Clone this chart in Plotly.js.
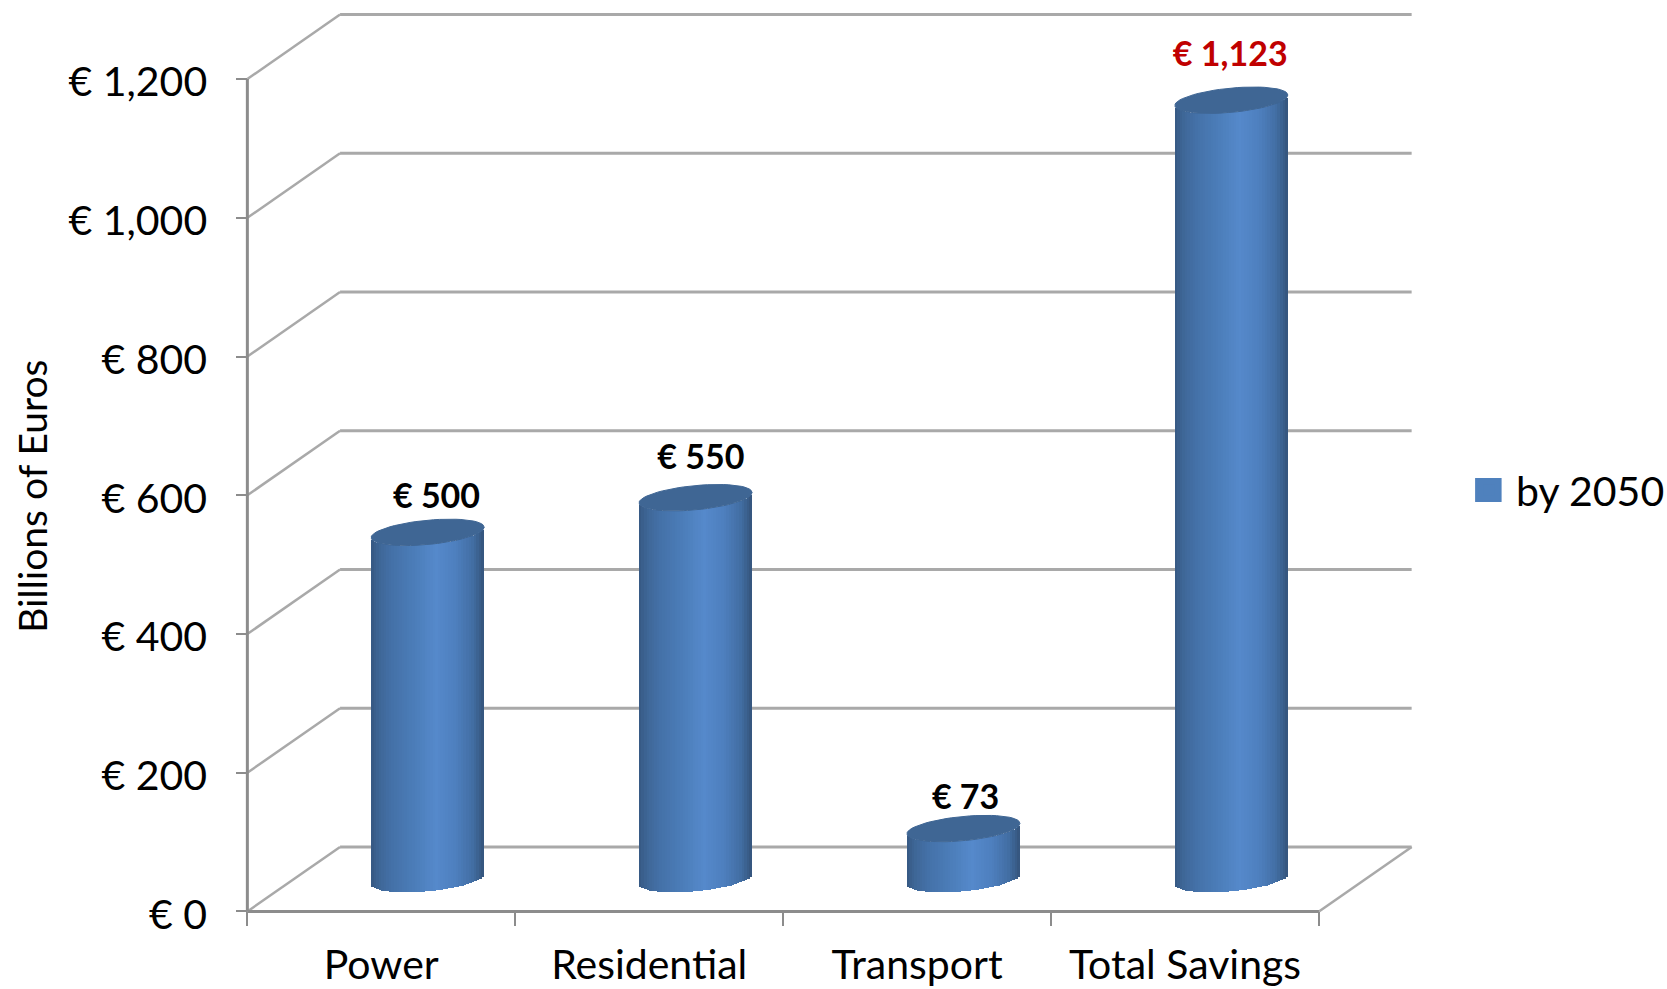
<!DOCTYPE html>
<html>
<head>
<meta charset="utf-8">
<script src="https://cdn.plot.ly/plotly-3.0.1.min.js"></script>
<style>html,body{margin:0;padding:0;background:#fff}</style>
</head>
<body>
<div id="chart" style="width:1667px;height:989px"></div>
<script>
// ---- data ----
const categories = ['Power', 'Residential', 'Transport', 'Total Savings'];
const seriesName = 'by 2050';
const values = [500, 550, 73, 1123];
const valueLabels = ['€ 500', '€ 550', '€ 73', '€ 1,123'];
const labelColors = ['#000000', '#000000', '#000000', '#C00000'];
const labelLift = [48, 53, 41, 62];
const labelShift = [0.033, 0.02, 0.008, -0.004];
const yTickVals = [0, 200, 400, 600, 800, 1000, 1200];
const yTickText = ['€ 0', '€ 200', '€ 400', '€ 600', '€ 800', '€ 1,000', '€ 1,200'];
const xBoundaries = [-0.5, 0.5, 1.5, 2.5, 3.5];

// ---- 3-D look: everything is a depth offset in data units ----
const depthX = 0.346, depthY = 93;
const halfW = 0.211, ellipseB = 17.5, ellipseTilt = 7.5;
const STRIPS = 44;
const gradStops = [[-1,[54,88,130]],[-0.86,[62,102,150]],[-0.62,[68,113,168]],[-0.2,[76,126,186]],[0.15,[85,137,203]],[0.5,[78,127,190]],[0.8,[66,110,163]],[1,[52,84,124]]];
function shade(u){
  for(let i=1;i<gradStops.length;i++){
    if(u<=gradStops[i][0]){
      const a=gradStops[i-1],b=gradStops[i],t=(u-a[0])/(b[0]-a[0]);
      return 'rgb('+a[1].map((c,k)=>Math.round(c+(b[1][k]-c)*t)).join(',')+')';
    }
  }
  return 'rgb(52,84,124)';
}
const centers = categories.map((_,i)=>i+depthX/2);
const floorY = depthY/2;

// side of each cylinder: narrow bars, each exactly value tall, standing on the curved base
const sx=[],sy=[],sb=[],sw=[],sc=[];
values.forEach((v,i)=>{
  for(let k=0;k<STRIPS;k++){
    const u=-1+(2*k+1)/STRIPS;
    sx.push(centers[i]+u*halfW);
    sy.push(v);
    sb.push(floorY-ellipseB*Math.sqrt(1-u*u)+ellipseTilt*u);
    sw.push(2*halfW/STRIPS*1.15);
    sc.push(shade(u));
  }
});
const traces=[{
  type:'bar',x:sx,y:sy,base:sb,width:sw,showlegend:false,hoverinfo:'skip',
  marker:{color:sc,line:{width:0}}
}];
// top cap of each cylinder
values.forEach((v,i)=>{
  const ex=[],ey=[];
  for(let d=0;d<=360;d+=6){
    const t=d*Math.PI/180,c=Math.cos(t);
    ex.push(centers[i]+halfW*c);
    ey.push(floorY+v+ellipseB*Math.sin(t)+ellipseTilt*c);
  }
  traces.push({type:'scatter',mode:'lines',x:ex,y:ey,fill:'toself',fillcolor:'#3F6694',
    line:{color:'#3F6694',width:1},showlegend:false,hoverinfo:'skip'});
});
// value labels
traces.push({type:'scatter',mode:'text',x:centers.map((c,i)=>c+labelShift[i]),y:values.map((v,i)=>floorY+v+labelLift[i]),
  text:valueLabels,textposition:'middle center',
  textfont:{family:'Lato, sans-serif',size:34,color:labelColors,weight:700},
  showlegend:false,hoverinfo:'skip'});
// legend entry
traces.push({type:'scatter',mode:'markers',name:seriesName,x:[null],y:[null],
  marker:{symbol:'square',size:16,color:'#4F81BD',line:{color:'#4F81BD',width:5}},showlegend:true});

// plot box in page pixels, with a little slack round the walls so their lines are not clipped
const M={l:242.3,r:249.6,t:8.8,b:71.8};
const plotW=1667-M.l-M.r, plotH=989-M.t-M.b;
const paperX=px=>(px-M.l)/plotW, paperY=py=>(989-M.b-py)/plotH;

// walls and floor
const wall='#A9A9A9', axisCol='#8C8C8C';
const seg=(x0,y0,x1,y1,color,width)=>({type:'line',layer:'below',xref:'x',yref:'y',x0,y0,x1,y1,line:{color,width}});
const shapes=[];
yTickVals.forEach(v=>{
  shapes.push(seg(-0.5+depthX,v+depthY,3.5+depthX,v+depthY,wall,3));
  shapes.push(seg(-0.5,v,-0.5+depthX,v+depthY,wall,2.5));
});
shapes.push(seg(3.5,0,3.5+depthX,depthY,wall,2.5));
shapes.push(seg(-0.5,0,-0.5,1200,axisCol,3));
shapes.push(seg(-0.5,0,3.5,0,axisCol,3));
// enlarges the legend swatch to the reference size
shapes.push({type:'rect',layer:'below',xref:'paper',yref:'paper',
  x0:paperX(1475.5),x1:paperX(1502),y0:paperY(502),y1:paperY(478),
  fillcolor:'#4F81BD',line:{width:0}});

const layout={
  width:1667,height:989,paper_bgcolor:'#fff',plot_bgcolor:'rgba(0,0,0,0)',
  margin:Object.assign({pad:0},M),
  barmode:'overlay',bargap:0,
  font:{family:'Lato, sans-serif',color:'#000'},
  xaxis:{type:'linear',range:[-0.52,3.866],showgrid:false,zeroline:false,showline:false,
    anchor:'free',position:8/1309,
    tickmode:'array',tickvals:[0,1,2,3],ticktext:categories,ticks:'',ticklabelstandoff:26,
    tickfont:{family:'Lato, sans-serif',size:41,color:'#000'},
    minor:{tickmode:'array',tickvals:xBoundaries,ticks:'outside',ticklen:14,tickwidth:2,tickcolor:axisCol,showgrid:false}},
  yaxis:{range:[-8,1301],showgrid:false,zeroline:false,showline:false,
    anchor:'free',position:0.02/4.386,
    tickmode:'array',tickvals:yTickVals,ticktext:yTickText,ticks:'outside',ticklen:11,tickwidth:2,tickcolor:axisCol,
    ticklabelstandoff:21,ticklabelshift:3,tickfont:{family:'Lato, sans-serif',size:41,color:'#000'}},
  shapes:shapes,
  legend:{xref:'container',yref:'container',x:1462/1667,xanchor:'left',y:(989-490)/989,yanchor:'middle',itemwidth:44,
    font:{family:'Lato, sans-serif',size:41,color:'#000'},bgcolor:'rgba(0,0,0,0)',itemclick:false,itemdoubleclick:false},
  annotations:[{xref:'paper',yref:'paper',x:paperX(32),y:paperY(496),text:'Billions of Euros',
    textangle:-90,showarrow:false,xanchor:'center',yanchor:'middle',
    font:{family:'Lato, sans-serif',size:39,color:'#000'}}]
};
Plotly.newPlot('chart',traces,layout,{displayModeBar:false,responsive:false});
</script>
</body>
</html>
